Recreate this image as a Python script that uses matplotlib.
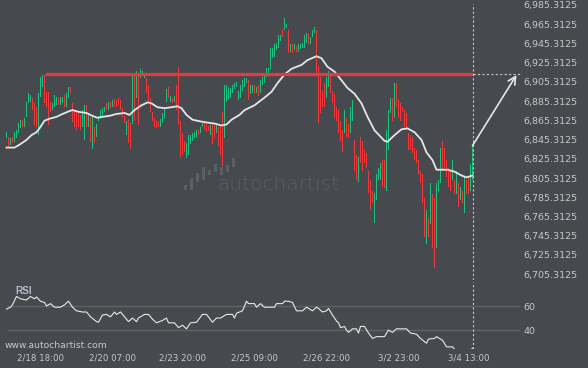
import matplotlib
matplotlib.use("Agg")
import matplotlib.pyplot as plt
from matplotlib.patches import Rectangle

# %% data
opens = [
    6847, 6848, 6840, 6848, 6843, 6847, 6852, 6857, 6866, 6858,
    6869, 6883, 6884, 6889, 6883, 6879, 6850, 6890, 6900, 6912,
    6895, 6895, 6884, 6876, 6879, 6881, 6889, 6881, 6883, 6892,
    6879, 6889, 6900, 6883, 6876, 6874, 6873, 6871, 6858, 6845,
    6881, 6858, 6869, 6836, 6858, 6848, 6865, 6867, 6870, 6874,
    6883, 6876, 6884, 6879, 6888, 6886,
    6889, 6886, 6878, 6870, 6850, 6867, 6863, 6862, 6914, 6889,
    6912, 6909, 6912, 6909, 6909, 6902, 6889, 6874, 6868, 6865,
    6865, 6858, 6863, 6867, 6884, 6900, 6884, 6889, 6884, 6902,
    6921, 6865, 6852, 6844, 6826, 6829, 6841, 6844, 6847, 6847,
    6855, 6852, 6858, 6863, 6862, 6859, 6850, 6862, 6860, 6852,
    6858, 6860, 6874, 6847, 6884, 6886, 6889, 6894, 6898, 6900,
    6886, 6889, 6896, 6900, 6904, 6907, 6893, 6894, 6902, 6894,
    6902, 6894, 6902, 6904, 6910, 6914, 6919, 6930, 6931, 6938,
    6941, 6948, 6959, 6959, 6961, 6959, 6936, 6945, 6938, 6943,
    6936, 6940, 6941, 6941, 6946, 6956, 6945, 6952, 6956, 6959,
    6922, 6910, 6896, 6904, 6889, 6900, 6914, 6896, 6893, 6879,
    6876, 6865, 6855, 6852, 6868, 6862, 6852, 6865, 6845,
    6829, 6801, 6848, 6844, 6834, 6831, 6813, 6803, 6792, 6759,
    6782, 6803, 6803, 6824, 6824, 6792, 6834, 6873, 6889, 6868,
    6904, 6886, 6883, 6879, 6876, 6873, 6852, 6850, 6848, 6837,
    6834, 6824, 6813, 6810, 6785, 6737, 6764, 6758, 6789, 6785,
    6733, 6792, 6800, 6844, 6837, 6824, 6816, 6813, 6803, 6803,
    6789, 6800, 6782, 6792, 6769, 6803, 6806, 6792, 6803,
]
closes = [
    6853, 6838, 6847, 6842, 6853, 6855, 6863, 6866, 6858, 6868,
    6884, 6894, 6892, 6876, 6860, 6858, 6894, 6910, 6912, 6883,
    6879, 6860, 6874, 6883, 6892, 6890, 6881, 6890, 6890, 6879,
    6894, 6900, 6894, 6864, 6858, 6855, 6858, 6855, 6876, 6881,
    6858, 6873, 6843, 6869, 6842, 6862, 6870, 6876, 6878, 6879,
    6876, 6884, 6878, 6886, 6879, 6879,
    6881, 6876, 6869, 6863, 6865, 6842, 6836, 6914, 6865, 6917,
    6860, 6919, 6917, 6915, 6894, 6884, 6874, 6865, 6858, 6857,
    6858, 6867, 6873, 6878, 6898, 6889, 6891, 6883, 6891, 6876,
    6860, 6826, 6829, 6832, 6842, 6850, 6850, 6852, 6853, 6855,
    6850, 6858, 6863, 6855, 6853, 6854, 6860, 6841, 6847, 6863,
    6839, 6829, 6818, 6902, 6902, 6900, 6899, 6902, 6904, 6905,
    6896, 6902, 6907, 6909, 6909, 6886, 6902, 6902, 6893, 6900,
    6891, 6907, 6910, 6914, 6920, 6920, 6941, 6941, 6945, 6946,
    6954, 6954, 6952, 6972, 6966, 6935, 6945, 6935, 6945, 6936,
    6945, 6945, 6946, 6954, 6956, 6945, 6952, 6959, 6962, 6914,
    6863, 6873, 6879, 6879, 6910, 6917, 6894, 6883, 6868, 6865,
    6852, 6844, 6832, 6876, 6848, 6847, 6879, 6886, 6813,
    6803, 6827, 6821, 6813, 6821, 6816, 6790, 6772, 6779, 6790,
    6810, 6816, 6821, 6796, 6795, 6855, 6876, 6889, 6865, 6904,
    6879, 6868, 6865, 6874, 6858, 6855, 6834, 6834, 6831, 6824,
    6821, 6810, 6800, 6779, 6744, 6772, 6744, 6800, 6733, 6712,
    6800, 6803, 6837, 6813, 6816, 6806, 6796, 6792, 6824, 6789,
    6813, 6775, 6796, 6779, 6806, 6789, 6789, 6820, 6839,
]

# moving average (bar index, price)
ma_idx = [0, 4, 6.5, 10, 12.5, 15, 16.5, 19, 21.5, 25,
          28, 31.5, 33, 36.5, 40, 43, 45.5, 48, 51.5, 55,
          59, 61.5, 64, 67.5, 70.5, 72.5, 75.5, 79, 82.5, 85.5,
          87.5, 90, 93, 97.5, 100.5, 104, 107.5, 110, 112.5, 116.5,
          119, 124, 129, 132.5, 135.5, 139, 142.5, 147.5, 150.5, 155,
          157.5, 160.5, 164, 167.5, 170.5, 174, 177.5, 180.5, 184, 189,
          190.5, 194, 197.5, 200.5, 204, 207.5, 210, 213, 215, 217.5,
          220.5, 224, 227.5, 230, 233]
ma_vals = [6837, 6837, 6840, 6845, 6850, 6853, 6857, 6865, 6867, 6869,
           6872, 6875, 6876, 6874, 6873, 6870, 6868, 6869, 6870, 6872,
           6873, 6871, 6876, 6881, 6884, 6883, 6879, 6878, 6879, 6880,
           6878, 6871, 6866, 6864, 6863, 6862, 6860, 6861, 6866, 6871,
           6876, 6881, 6889, 6895, 6904, 6913, 6919, 6923, 6928, 6932,
           6930, 6921, 6916, 6907, 6899, 6893, 6883, 6869, 6855, 6844,
           6843, 6850, 6856, 6857, 6853, 6845, 6832, 6824, 6814, 6814,
           6814, 6812, 6808, 6806, 6808]

# RSI (bar index, value)
rsi_idx = [0, 2, 3, 5, 7, 10, 12, 14, 15, 17,
           19, 20, 22, 24, 27, 29, 31, 33, 35, 38,
           40, 42, 45, 46, 48, 50, 52, 54, 55, 57,
           59, 61, 63, 65, 66, 69, 71, 73, 75, 78,
           80, 81, 84, 86, 88, 90, 92, 95, 98, 100,
           103, 105, 107, 110, 113, 114, 115, 118, 120, 121,
           124, 125, 127, 129, 134, 135, 138, 139, 141, 143,
           145, 148, 150, 151, 153, 155, 156, 158, 160, 161,
           163, 165, 166, 167, 169, 170, 171, 173, 175, 176,
           177, 179, 181, 183, 185, 189, 191, 193, 195, 198,
           200, 202, 205, 207, 210, 211, 214, 215, 218, 220,
           223, 224, 226, 230, 233]
rsi_vals = [57.5, 59, 61, 68, 66, 65, 68, 66, 67.5, 64,
            63, 60, 62, 59, 59, 61, 64, 59, 56, 55,
            55, 51, 47, 46.5, 52.5, 53, 51, 55, 53, 55,
            51, 47, 50, 47, 50, 53, 53, 49, 46, 48,
            50, 46, 46, 42, 44, 41, 46, 46.5, 53, 53,
            46.5, 50, 50, 53, 53, 50, 54, 56, 64, 62,
            62, 59, 62, 59, 59, 62, 62, 64, 64, 63,
            56, 56, 59, 58, 56, 59, 58, 55, 56, 58,
            52.5, 47.5, 46, 42, 43, 40, 38, 41, 41, 37.5,
            43, 43, 37.5, 33, 34.5, 34.5, 40, 38, 41, 41,
            41, 37.5, 36.5, 33, 29, 32.5, 33, 34.5, 31.5, 26,
            26, 24, 20, 18, 25]

resistance = 6913.5
resistance_start = 19
forecast_end = 6912.5
forecast_bars = 22

price_ticks = [6705.3125 + 20 * k for k in range(15)]
time_idx = [17, 53, 88, 124, 160, 196, 231]
time_labels = ["2/18 18:00", "2/20 07:00", "2/23 20:00", "2/25 09:00",
               "2/26 22:00", "3/2 23:00", "3/4 13:00"]

# %% style
bg = "#46494e"
up = "#1fc181"
down = "#f0393b"
txt = "#c8c8c8"
W, H = 588, 368
x0, x1 = -3.25, 257.75   # two pixels per bar, bar edges on whole pixels

fig = plt.figure(figsize=(W / 100, H / 100), dpi=100, facecolor=bg)
ax = fig.add_axes([0, 88 / H, 522 / W, 280 / H])
ax2 = fig.add_axes([0, 19 / H, 522 / W, 67 / H])
for a in (ax, ax2):
    a.set_facecolor("none")
    for s in a.spines.values():
        s.set_visible(False)
    a.set_xlim(x0, x1)

# %% watermark logo
wm = "#5b5f64"
logo = [(184, 185, 190), (190, 178, 190), (196, 173, 182), (202, 167, 180),
        (208, 170, 175), (214, 164, 172), (220, 167, 175), (226, 165, 172),
        (232, 158, 167)]
for lx, ly0, ly1 in logo:
    fig.add_artist(Rectangle((lx / W, 1 - ly1 / H), 3 / W, (ly1 - ly0) / H,
                             fc=wm, ec="none", zorder=-1))
fig.text(217 / W, 1 - 190 / H, "autochartist", fontsize=14.5, color=wm,
         family="DejaVu Sans", weight="light", va="baseline", zorder=-1)

# %% candles
n = len(opens)
idx = list(range(n))
heights = [c - o for o, c in zip(opens, closes)]
colors = [up if c >= o else down for o, c in zip(opens, closes)]
ax.bar(idx, heights, bottom=opens, width=0.5, color=colors, linewidth=0, zorder=2)
ax.plot(ma_idx, ma_vals, color="#e6e6e6", lw=1.3, zorder=3)

last = n - 1
ax.plot([resistance_start, last], [resistance, resistance], color="#e8393c",
        lw=2.3, solid_capstyle="butt", zorder=4)
ax.plot([last, x1], [resistance, resistance], color="#c8c8c8", lw=0.8,
        ls=(0, (2, 2)), zorder=4)

ylo, yhi = 6699.3, 6990.5
ax.set_ylim(ylo, yhi)
ax.axvline(last, ymax=(6986.3 - ylo) / (yhi - ylo), color="#c8c8c8", lw=0.8,
           ls=(0, (2, 2)), zorder=4)
ax.annotate("", xy=(last + forecast_bars, forecast_end), xytext=(last, closes[-1]),
            arrowprops=dict(arrowstyle="->,head_length=0.55,head_width=0.28",
                            color="#e6e6e6", lw=1.2, shrinkA=0, shrinkB=0),
            zorder=5)

ax.yaxis.tick_right()
ax.set_yticks(price_ticks)
ax.set_yticklabels([f"{v:,.4f}" for v in price_ticks])
ax.tick_params(axis="y", length=0, pad=1, labelsize=6.8, labelcolor=txt)
ax.set_xticks([])

# %% RSI panel
ax2.set_ylim(24.2, 80)
ax2.hlines([60, 40], 0, 256.5, color="#5e6461", lw=1, zorder=1)
ax2.plot(rsi_idx, rsi_vals, color="#e8e8e8", lw=0.8, zorder=3)
ax2.axvline(last, color="#c8c8c8", lw=0.8, ls=(0, (2, 2)), zorder=4)
ax2.yaxis.tick_right()
ax2.set_yticks([60, 40])
ax2.tick_params(axis="y", length=0, pad=1, labelsize=6.8, labelcolor=txt)
ax2.set_xticks(time_idx)
ax2.set_xticklabels(time_labels)
ax2.tick_params(axis="x", length=0, pad=3, labelsize=6.2, labelcolor=txt)

fig.text(15 / W, 1 - 291 / H, "RSI", fontsize=7.2, weight="bold", color="#b4b8c6",
         family="Liberation Sans", va="center")
fig.text(5 / W, 1 - 345 / H, "www.autochartist.com", fontsize=6.6, color=txt, va="center")

fig.savefig("out.png", dpi=100, facecolor=bg)
